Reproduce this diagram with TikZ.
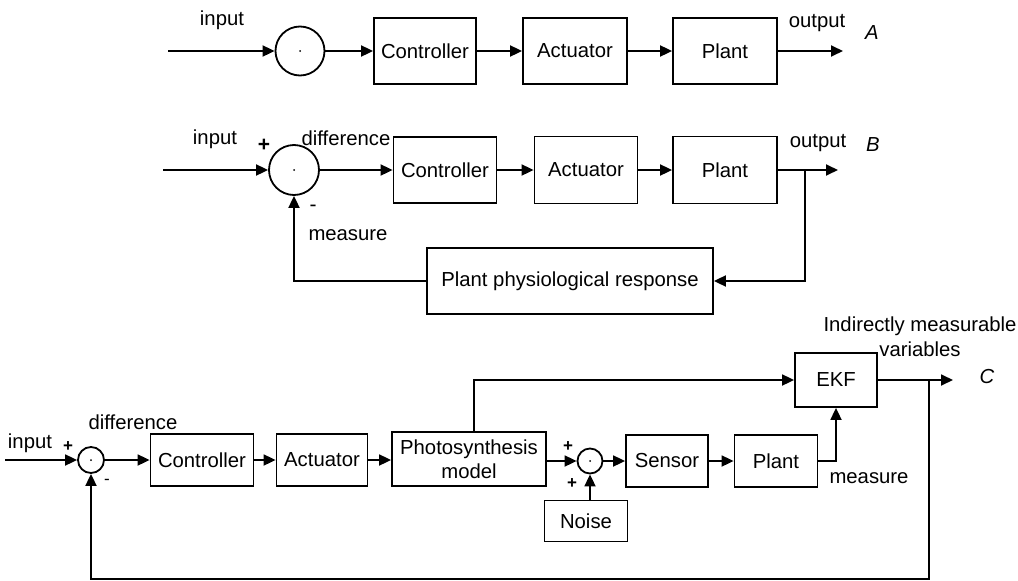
\documentclass[tikz,border=0pt]{standalone}
\usepackage{fontspec}
\setmainfont{Liberation Sans}
\usetikzlibrary{arrows.meta}
\begin{document}
\begin{tikzpicture}[x=1pt,y=-1pt,
  font=\fontsize{20.3}{23.5}\selectfont,
  line width=1.8pt,
  blk/.style={draw,rectangle,inner sep=0pt,align=center},
  sumc/.style={draw,circle,inner sep=0pt,minimum size=#1},
  lbl/.style={inner sep=0pt},
  sgn/.style={inner sep=0pt,font=\fontsize{#1}{#1}\selectfont},
  arr/.style={-{Triangle[length=12pt,width=11pt]}},
  cdot/.style={fill,circle,inner sep=0pt,minimum size=2pt}]
\path[use as bounding box] (0,0) rectangle (1018,581);

% ---------- A: open loop ----------
\coordinate (inA) at (168,51);
\node[sumc=49pt] (sA) at (300,51) {};
\node[cdot] at (sA) {};
\node[blk,minimum width=102pt,minimum height=66pt] (ctrlA) at (425,51) {Controller};
\node[blk,minimum width=104pt,minimum height=66pt] (actA) at (575,51) {Actuator};
\node[blk,minimum width=104pt,minimum height=66pt] (plantA) at (725,51) {Plant};
\coordinate (outA) at (843,51);
\draw[arr] (inA) -- (sA);
\draw[arr] (sA) -- (ctrlA);
\draw[arr] (ctrlA) -- (actA);
\draw[arr] (actA) -- (plantA);
\draw[arr] (plantA) -- (outA);
\node[lbl] (inlA) at (222,20) {input};
\node[lbl] (outlA) at (817,23) {output};
\node[lbl] (tagA) at (872,33) {\itshape A};

% ---------- B: closed loop ----------
\coordinate (inB) at (163,170);
\node[sumc=50pt] (sB) at (294,170) {};
\node[cdot] at (sB) {};
\node[blk,minimum width=103pt,minimum height=66pt] (ctrlB) at (445,170) {Controller};
\node[blk,minimum width=103pt,minimum height=67pt] (actB) at (586,170) {Actuator};
\node[blk,minimum width=104pt,minimum height=67pt] (plantB) at (725,170) {Plant};
\coordinate (outB) at (838,170);
\coordinate (brB) at (805,170);
\node[blk,minimum width=286pt,minimum height=66pt] (ppr) at (570,281) {Plant physiological response};
\draw[arr] (inB) -- (sB);
\draw[arr] (sB) -- (ctrlB);
\draw[arr] (ctrlB) -- (actB);
\draw[arr] (actB) -- (plantB);
\draw[arr] (plantB) -- (outB);
\draw[arr] (brB) |- (ppr);
\draw[arr] (ppr) -| (sB);
\node[lbl] (inlB) at (215,139) {input};
\node[sgn=21] (plB) at (264,145) {\bfseries +};
\node[lbl] (difB) at (346,138) {difference};
\node[sgn=21] (miB) at (313,208) {-};
\node[lbl] (meaB) at (348,235) {measure};
\node[lbl] (outlB) at (818,143) {output};
\node[lbl] (tagB) at (873,145) {\itshape B};

% ---------- C: estimation with EKF ----------
\coordinate (inC) at (5,460);
\node[sumc=26pt] (sC) at (91,460) {};
\node[cdot] at (sC) {};
\node[blk,minimum width=103pt,minimum height=52pt] (ctrlC) at (202,460) {Controller};
\node[blk,minimum width=91pt,minimum height=52pt] (actC) at (322,460) {Actuator};
\node[blk,minimum width=154pt,minimum height=54pt] (photo) at (469,459) {Photosynthesis\\model};
\node[sumc=25pt] (sD) at (590,461) {};
\node[cdot] at (sD) {};
\node[blk,minimum width=83pt,minimum height=41pt] (noise) at (586,521) {Noise};
\node[blk,minimum width=82pt,minimum height=52pt] (sens) at (667,461) {Sensor};
\node[blk,minimum width=83pt,minimum height=52pt] (plantC) at (776,461) {Plant};
\node[blk,minimum width=82pt,minimum height=54pt] (ekf) at (836,380) {EKF};
\coordinate (outC) at (953,380);
\coordinate (brC) at (929,380);
\coordinate (botC) at (929,579);
\draw[arr] (inC) -- (sC);
\draw[arr] (sC) -- (ctrlC);
\draw[arr] (ctrlC) -- (actC);
\draw[arr] (actC) -- (photo.west |- actC);
\draw[arr] (photo.east |- sD) -- (sD);
\draw[arr] (sD |- noise.north) -- (sD);
\draw[arr] (sD) -- (sens);
\draw[arr] (sens) -- (plantC);
\draw[arr] (plantC) -| (ekf);
\draw[arr] ([xshift=5pt]photo.north) |- (ekf);
\draw[arr] (ekf) -- (outC);
\draw[arr] (brC) -- (botC) -| (sC);
\node[lbl] (inlC) at (30,443) {input};
\node[sgn=17] (plC) at (68,447) {\bfseries +};
\node[lbl] (difC) at (133,422) {difference};
\node[sgn=17] (miC) at (107,482) {-};
\node[sgn=17] (plD) at (568,447) {\bfseries +};
\node[sgn=17] (plE) at (572,484) {\bfseries +};
\node[lbl] (meaC) at (869,478) {measure};
\node[lbl] (indC) at (920,326) {Indirectly measurable};
\node[lbl] (varC) at (920,349) {variables};
\node[lbl] (tagC) at (987,377) {\itshape C};
\end{tikzpicture}
\end{document}
